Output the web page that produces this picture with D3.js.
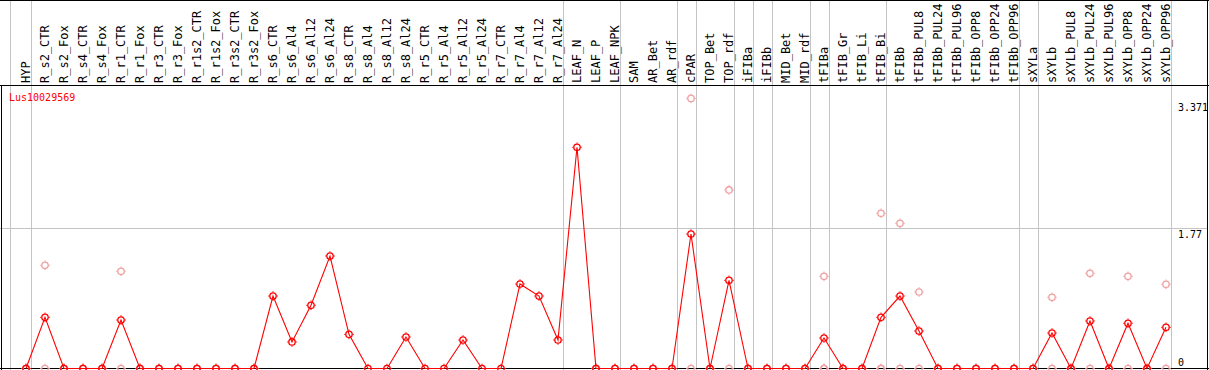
<!DOCTYPE html>
<html>
<head>
<meta charset="utf-8">
<script src="https://cdn.jsdelivr.net/npm/d3@7"></script>
<style>
  body { margin: 0; background: #fff; }
  svg { display: block; }
  text { font-family: "DejaVu Sans Mono", monospace; }
</style>
</head>
<body>
<script>
const geneName = 'Lus10029569';

const samples = [
  'HYP', 'R_s2_CTR', 'R_s2_Fox', 'R_s4_CTR', 'R_s4_Fox', 'R_r1_CTR', 'R_r1_Fox',
  'R_r3_CTR', 'R_r3_Fox', 'R_r1s2_CTR', 'R_r1s2_Fox', 'R_r3s2_CTR', 'R_r3s2_Fox',
  'R_s6_CTR', 'R_s6_Al4', 'R_s6_Al12', 'R_s6_Al24', 'R_s8_CTR', 'R_s8_Al4', 'R_s8_Al12', 'R_s8_Al24',
  'R_r5_CTR', 'R_r5_Al4', 'R_r5_Al12', 'R_r5_Al24', 'R_r7_CTR', 'R_r7_Al4', 'R_r7_Al12', 'R_r7_Al24',
  'LEAF_N', 'LEAF_P', 'LEAF_NPK', 'SAM', 'AR_Bet', 'AR_rdf', 'cPAR', 'TOP_Bet', 'TOP_rdf',
  'iFIBa', 'iFIBb', 'MID_Bet', 'MID_rdf', 'tFIBa', 'tFIB_Gr', 'tFIB_Li', 'tFIB_Bi', 'tFIBb',
  'tFIBb_PUL8', 'tFIBb_PUL24', 'tFIBb_PUL96', 'tFIBb_OPP8', 'tFIBb_OPP24', 'tFIBb_OPP96',
  'sXYLa', 'sXYLb', 'sXYLb_PUL8', 'sXYLb_PUL24', 'sXYLb_PUL96', 'sXYLb_OPP8', 'sXYLb_OPP24', 'sXYLb_OPP96'
];

// mean expression per sample (red line)
const means = [
  0, 0.646, 0, 0, 0, 0.612, 0, 0, 0, 0, 0, 0, 0,
  0.915, 0.335, 0.798, 1.420, 0.431, 0, 0, 0.398,
  0, 0, 0.360, 0, 0, 1.067, 0.915, 0.360,
  2.793, 0, 0, 0, 0, 0, 1.698, 0, 1.113,
  0, 0, 0, 0, 0.385, 0, 0, 0.646, 0.915,
  0.473, 0, 0, 0, 0, 0,
  0, 0.448, 0, 0.600, 0, 0.571, 0, 0.520
];

// single replicates (pale circles)
const replicates = [
  [0, 0], [1.303, 0], [0, 0], [0, 0], [0, 0], [1.227, 0], [0, 0], [0, 0], [0, 0], [0, 0], [0, 0], [0, 0], [0, 0],
  [], [], [], [], [], [], [], [],
  [], [], [], [], [], [], [], [],
  [], [0, 0], [0, 0], [0, 0], [0, 0], [0, 0], [3.41, 0], [0, 0], [2.254, 0],
  [0, 0], [0, 0], [0, 0], [0, 0], [1.164, 0, 0], [0, 0], [0, 0], [1.960, 0, 0], [1.833, 0],
  [0.966, 0], [0, 0], [0, 0], [0, 0], [0, 0], [0, 0],
  [0, 0], [0.899, 0], [0, 0], [1.202, 0], [0, 0], [1.164, 0], [0, 0], [1.063, 0]
];

// a grey separator follows these sample indexes
const groupEnds = [0, 28, 31, 34, 35, 37, 38, 39, 41, 42, 45, 52, 53, 60];

const yTicks = [0, 1.77, 3.371];
const gridTicks = [1.77];

const w = 1209;
const h = 370;
const headerH = 85;

const svg = d3.select('body')
              .append('svg')
              .attr('width', w)
              .attr('height', h)

const x = d3.scaleLinear()
            .domain([0, samples.length - 1])
            .range([26, 1166])

const y = d3.scaleLinear()
            .domain([0, 3.371])
            .range([368.5, 101.5])

// separators
svg.append('g')
   .selectAll('line')
   .data([-1].concat(groupEnds))
   .enter()
   .append('line')
   .attr('x1', d => d < 0 ? 10.5 : Math.round(x(d) + 4.7) + 0.5)
   .attr('x2', d => d < 0 ? 10.5 : Math.round(x(d) + 4.7) + 0.5)
   .attr('y1', 0)
   .attr('y2', h)
   .attr('stroke', '#c4c4c4')
   .attr('stroke-width', 1)

// horizontal grid
svg.append('g')
   .selectAll('line')
   .data(gridTicks)
   .enter()
   .append('line')
   .attr('x1', 0)
   .attr('x2', w - 1)
   .attr('y1', d => Math.round(y(d)) + 0.5)
   .attr('y2', d => Math.round(y(d)) + 0.5)
   .attr('stroke', '#c4c4c4')

// borders
const frame = svg.append('g').attr('stroke', '#000').attr('stroke-width', 1)
frame.append('line').attr('x1', 0).attr('x2', w).attr('y1', 0.5).attr('y2', 0.5)
frame.append('line').attr('x1', 0).attr('x2', w).attr('y1', headerH + 0.5).attr('y2', headerH + 0.5)
frame.append('line').attr('x1', 0).attr('x2', w).attr('y1', h - 1.5).attr('y2', h - 1.5)
frame.append('line').attr('x1', 1.5).attr('x2', 1.5).attr('y1', headerH).attr('y2', h)
frame.append('line').attr('x1', w - 1.5).attr('x2', w - 1.5).attr('y1', 0).attr('y2', h)

// sample labels
svg.append('g')
   .selectAll('text')
   .data(samples)
   .enter()
   .append('text')
   .attr('transform', (d, i) => `translate(${x(i) + 4.3},83) rotate(-90)`)
   .attr('font-size', 12)
   .attr('fill', '#000')
   .text(d => d)

// y labels on the right
svg.append('g')
   .selectAll('text')
   .data(yTicks)
   .enter()
   .append('text')
   .attr('x', 1178)
   .attr('y', d => Math.min(y(d) + 9.5, 365.5))
   .attr('font-size', 10)
   .attr('fill', '#000')
   .text(d => d)

svg.append('text')
   .attr('x', 9)
   .attr('y', 100.5)
   .attr('font-size', 10)
   .attr('fill', '#ff0000')
   .text(geneName)

function marker(g, color) {
  g.append('circle')
   .attr('r', 3.2)
   .attr('fill', 'none')
   .attr('stroke', color)
   .attr('stroke-width', 1.3)
  g.append('path')
   .attr('d', 'M0,-3.6V-4.8M0,3.6V4.8M-3.6,0H-4.8M3.6,0H4.8')
   .attr('stroke', color)
   .attr('stroke-width', 1)
}

// replicate points
const reps = [];
replicates.forEach((r, i) => r.forEach(v => reps.push({ i: i, v: v })));
svg.append('g')
   .selectAll('g')
   .data(reps)
   .enter()
   .append('g')
   .attr('transform', d => `translate(${x(d.i)},${y(d.v)})`)
   .each(function() { marker(d3.select(this), '#f0a0a0') })

// mean line
const line = d3.line()
               .x((d, i) => x(i))
               .y(d => y(d))
svg.append('path')
   .datum(means)
   .attr('d', line)
   .attr('fill', 'none')
   .attr('stroke', '#ff0000')
   .attr('stroke-width', 1.1)

svg.append('g')
   .selectAll('g')
   .data(means)
   .enter()
   .append('g')
   .attr('transform', (d, i) => `translate(${x(i)},${y(d)})`)
   .each(function() { marker(d3.select(this), '#ff0000') })
</script>
</body>
</html>
